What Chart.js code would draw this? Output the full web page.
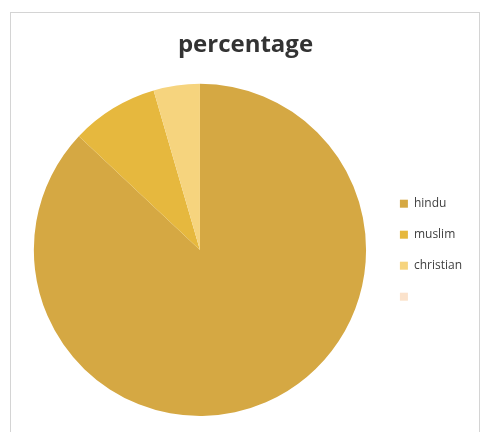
<!DOCTYPE html>
<html>
<head>
<meta charset="utf-8">
<script src="https://cdn.jsdelivr.net/npm/chart.js@4"></script>
<style>
    body { margin: 0; background: #fff; }
    #frame { position: absolute; left: 10px; top: 12px; width: 470px; height: 430px; border: 1px solid #d4d4d4; box-sizing: border-box; }
    #wrap { position: absolute; left: 0; top: 0; width: 482px; height: 432px; }
</style>
</head>
<body>
<div id="frame"></div>
<div id="wrap"><canvas id="pieChart" width="482" height="432"></canvas></div>
<script>
// データ
const labels = ['hindu', 'muslim', 'christian', ''];
const values = [87, 8.5, 4.5, 0];
const colors = ['#D5A843', '#E6B83E', '#F6D47E', '#FBE2CB'];

const ctx = document.getElementById('pieChart').getContext('2d');

const pieChart = new Chart(ctx, {
    type: 'pie',
    data: {
        labels: labels,
        datasets: [{
            label: 'percentage',
            data: values,
            backgroundColor: colors,
            borderWidth: 0
        }]
    },
    options: {
        responsive: false,
        animation: false,
        layout: {
            padding: { left: 19, right: 10, top: 0, bottom: 16 }
        },
        plugins: {
            title: {
                display: true,
                text: 'percentage',
                color: '#333',
                font: { family: 'Open Sans', size: 24, weight: 'bold' },
                padding: { top: 31, bottom: 24 }
            },
            legend: {
                position: 'right',
                // 凡例を下にずらすための空タイトル
                title: {
                    display: true,
                    text: ' ',
                    font: { size: 12 },
                    padding: { top: 70, bottom: 0 }
                },
                labels: {
                    boxWidth: 8,
                    boxHeight: 8,
                    padding: 19,
                    color: '#404040',
                    font: { family: 'Open Sans', size: 12 }
                }
            },
            tooltip: { enabled: false }
        }
    }
});
</script>
</body>
</html>
